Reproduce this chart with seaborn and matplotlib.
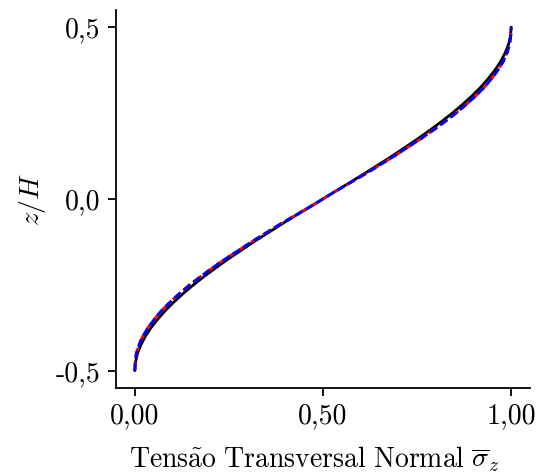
import matplotlib
matplotlib.use("Agg")
import matplotlib.pyplot as plt
import seaborn as sns
import pandas as pd

# z/H positions
z_h = [-0.500, -0.475, -0.450, -0.425, -0.400, -0.375, -0.350, -0.325, -0.300, -0.275,
       -0.250, -0.225, -0.200, -0.175, -0.150, -0.125, -0.100, -0.075, -0.050, -0.025,
       0.000, 0.025, 0.050, 0.075, 0.100, 0.125, 0.150, 0.175, 0.200, 0.225,
       0.250, 0.275, 0.300, 0.325, 0.350, 0.375, 0.400, 0.425, 0.450, 0.475, 0.500]

# solid black reference curve
sigma_ref = [0.000, 0.002, 0.007, 0.016, 0.028, 0.043, 0.061, 0.081, 0.104, 0.129,
             0.156, 0.185, 0.216, 0.248, 0.282, 0.316, 0.352, 0.388, 0.425, 0.463,
             0.500, 0.537, 0.575, 0.612, 0.648, 0.684, 0.718, 0.752, 0.784, 0.815,
             0.844, 0.871, 0.896, 0.919, 0.939, 0.957, 0.972, 0.984, 0.993, 0.998, 1.000]

# red dashed curve
sigma_red = [0.000, 0.001, 0.004, 0.011, 0.021, 0.035, 0.052, 0.071, 0.094, 0.119,
             0.146, 0.176, 0.207, 0.240, 0.275, 0.310, 0.347, 0.384, 0.423, 0.462,
             0.500, 0.538, 0.577, 0.616, 0.653, 0.690, 0.725, 0.760, 0.793, 0.824,
             0.854, 0.881, 0.906, 0.929, 0.948, 0.965, 0.979, 0.989, 0.996, 0.999, 1.000]

# blue dashed curve
sigma_blue = [0.000, 0.001, 0.004, 0.011, 0.021, 0.035, 0.052, 0.071, 0.094, 0.119,
              0.146, 0.176, 0.207, 0.240, 0.275, 0.310, 0.347, 0.384, 0.423, 0.462,
              0.500, 0.538, 0.577, 0.616, 0.653, 0.690, 0.725, 0.760, 0.793, 0.824,
              0.854, 0.881, 0.906, 0.929, 0.948, 0.965, 0.979, 0.989, 0.996, 0.999, 1.000]

x_ticks = [0.0, 0.5, 1.0]
x_ticklabels = ["0,00", "0,50", "1,00"]
y_ticks = [-0.5, 0.0, 0.5]
y_ticklabels = ["-0,5", "0,0", "0,5"]

sns.set_theme(style="ticks")
plt.rcParams["font.family"] = ["cmr10", "DejaVu Serif"]
plt.rcParams["mathtext.fontset"] = "cm"
plt.rcParams["axes.formatter.use_mathtext"] = True

fig = plt.figure(figsize=(5.37, 4.73), dpi=100)
ax = fig.add_axes([0.216, 0.180, 0.771, 0.799])

df_ref = pd.DataFrame({"sigma": sigma_ref, "z": z_h})
df_red = pd.DataFrame({"sigma": sigma_red, "z": z_h})
df_blue = pd.DataFrame({"sigma": sigma_blue, "z": z_h})

sns.lineplot(data=df_ref, x="sigma", y="z", sort=False, estimator=None,
             color="black", linewidth=2.0, ax=ax)
sns.lineplot(data=df_red, x="sigma", y="z", sort=False, estimator=None,
             color="red", linewidth=2.0, ax=ax, linestyle=(0, (3.4, 1.6)))
sns.lineplot(data=df_blue, x="sigma", y="z", sort=False, estimator=None,
             color="blue", linewidth=2.0, ax=ax, linestyle=(0, (3.0, 1.4)))

ax.set_xticks(x_ticks)
ax.set_xticklabels(x_ticklabels)
ax.set_yticks(y_ticks)
ax.set_yticklabels(y_ticklabels)
ax.tick_params(axis="both", labelsize=20, length=6, width=1.3, colors="black", pad=5)
for lab in ax.get_xticklabels() + ax.get_yticklabels():
    lab.set_color("black")

ax.set_xlabel(r"$\mathrm{Tens\tilde{a}o\ Transversal\ Normal}\ \overline{\sigma}_z$",
              fontsize=20, color="black", labelpad=11, x=0.48)
ax.set_ylabel(r"$z/H$", fontsize=20, color="black", labelpad=6)

sns.despine(ax=ax)
for s in ["left", "bottom"]:
    ax.spines[s].set_linewidth(1.3)
    ax.spines[s].set_color("black")

ax.margins(0.05)
fig.savefig("out.png", dpi=100)
